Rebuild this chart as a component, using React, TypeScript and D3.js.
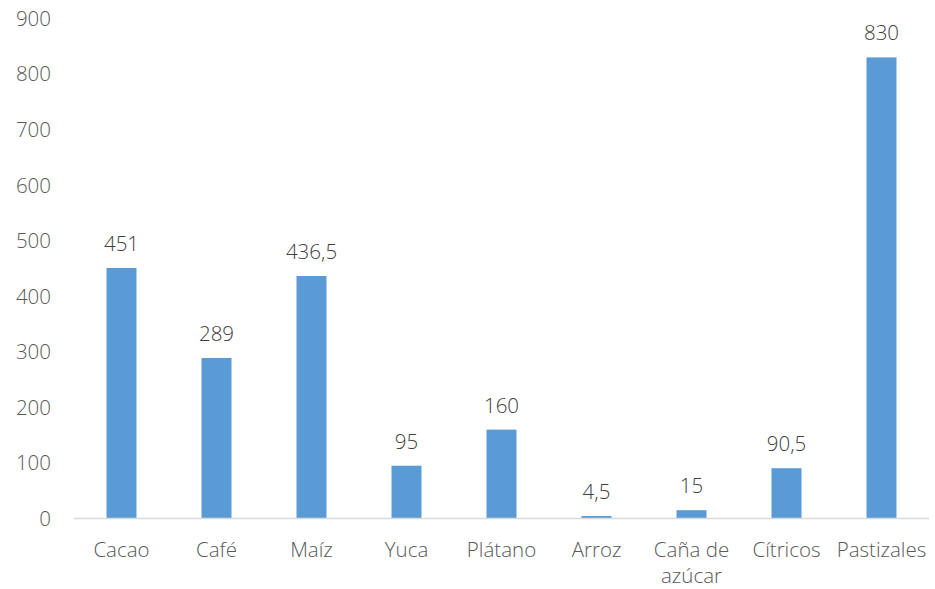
import React from "react";
import * as d3 from "d3";

const categories = ["Cacao", "Café", "Maíz", "Yuca", "Plátano", "Arroz", "Caña de azúcar", "Cítricos", "Pastizales"];
const values = [451, 289, 436.5, 95, 160, 4.5, 15, 90.5, 830];
const valueLabels = ["451", "289", "436,5", "95", "160", "4,5", "15", "90,5", "830"];
const yTicks = [0, 100, 200, 300, 400, 500, 600, 700, 800, 900];
const categoryLines: Record<string, string[]> = { "Caña de azúcar": ["Caña de", "azúcar"] };

const W = 935, H = 589;
const FONT = "'Open Sans', 'Segoe UI', sans-serif";

export default function App() {
  const x = d3.scaleBand<string>().domain(categories).range([74, 929]).paddingInner(65 / 95).paddingOuter(65 / 190);
  const y = d3.scaleLinear().domain([0, 900]).range([518.5, 18.5]);
  return (
    <svg width={W} height={H} style={{ position: "absolute", left: 0, top: 0, background: "#fff" }}>
      {yTicks.map((t) => (
        <text key={t} x={51} y={y(t)} dy="0.36em" textAnchor="end" fontFamily={FONT} fontWeight={300} fontSize={20.5} fill="#595959">
          {t}
        </text>
      ))}
      {categories.map((c, i) => (
        <g key={c}>
          <rect x={x(c)} y={y(values[i])} width={x.bandwidth()} height={y(0) - y(values[i])} fill="#5B9BD5" />
          <text x={(x(c) as number) + x.bandwidth() / 2} y={y(values[i]) - 17} textAnchor="middle" fontFamily={FONT} fontWeight={300} fontSize={20.5} fill="#404040">
            {valueLabels[i]}
          </text>
          {(categoryLines[c] || [c]).map((ln, j) => (
            <text key={j} x={(x(c) as number) + x.bandwidth() / 2} y={557 + j * 26} textAnchor="middle" fontFamily={FONT} fontWeight={300} fontSize={20.5} fill="#595959">
              {ln}
            </text>
          ))}
        </g>
      ))}
      <line x1={74} x2={929} y1={y(0)} y2={y(0)} stroke="#D9D9D9" strokeWidth={1.5} />
    </svg>
  );
}
